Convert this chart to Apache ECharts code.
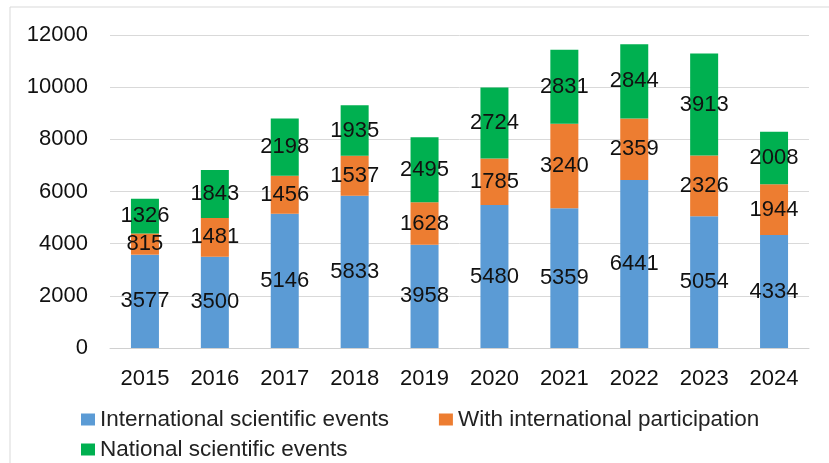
<!DOCTYPE html>
<html><head><meta charset="utf-8">
<script src="https://cdn.jsdelivr.net/npm/echarts@6/dist/echarts.min.js"></script>
<style>html,body{margin:0;padding:0;background:#fff}#c{width:829px;height:463px}</style>
</head><body><div id="c"></div>
<script>
const years = ['2015','2016','2017','2018','2019','2020','2021','2022','2023','2024'];
const international = [3577,3500,5146,5833,3958,5480,5359,6441,5054,4334];
const withParticipation = [815,1481,1456,1537,1628,1785,3240,2359,2326,1944];
const national = [1326,1843,2198,1935,2495,2724,2831,2844,3913,2008];
const seriesNames = ['International scientific events','With international participation','National scientific events'];
const yTicks = {min:0, max:12000, interval:2000};

const chart = echarts.init(document.getElementById('c'));
const font = 'Liberation Sans, Arial, sans-serif';
const lbl = {show:true, position:'inside', color:'#111', fontSize:22, fontFamily:font};
function s(name, data, color){
  return {name, type:'bar', stack:'a', data, barWidth:28, itemStyle:{color}, label:lbl, emphasis:{disabled:true}};
}
chart.setOption({
  animation:false,
  graphic:[{type:'rect', shape:{x:10,y:7,width:830,height:470}, style:{fill:'none', stroke:'#d9d9d9', lineWidth:1}, silent:true}],
  grid:{left:110, right:20, top:35, bottom:115},
  xAxis:{type:'category', data:years, axisTick:{show:false},
    axisLine:{lineStyle:{color:'#d0d0d0', width:1}},
    axisLabel:{color:'#111', fontSize:22, fontFamily:font, margin:20}},
  yAxis:{type:'value', min:yTicks.min, max:yTicks.max, interval:yTicks.interval,
    splitLine:{lineStyle:{color:'#d9d9d9'}}, axisLine:{show:false}, axisTick:{show:false},
    axisLabel:{color:'#111', fontSize:22, fontFamily:font, margin:22, formatter:v=>String(v)}},
  legend:[
    {data:[seriesNames[0], seriesNames[1]], left:81, top:408, padding:0, itemWidth:14, itemHeight:12, itemGap:50, icon:'rect',
     textStyle:{color:'#222', fontSize:22.5, fontFamily:font}},
    {data:[seriesNames[2]], left:81, top:438, padding:0, itemWidth:14, itemHeight:12, icon:'rect',
     textStyle:{color:'#222', fontSize:22.5, fontFamily:font}}
  ],
  series:[
    s(seriesNames[0], international, '#5B9BD5'),
    s(seriesNames[1], withParticipation, '#ED7D31'),
    s(seriesNames[2], national, '#00B050')
  ]
});
</script></body></html>
